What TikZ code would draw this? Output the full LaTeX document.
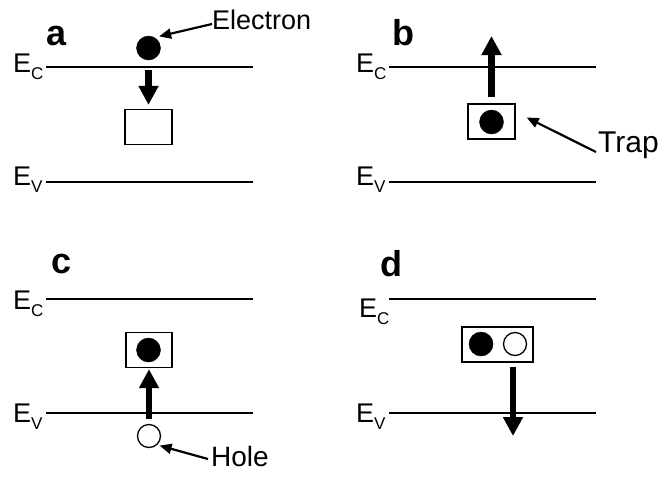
\documentclass[tikz,border=0pt]{standalone}
\usepackage{fontspec}
\setmainfont{Liberation Sans}
\usetikzlibrary{arrows.meta}
\newcommand{\lvsub}[1]{\raisebox{-7pt}{\fontsize{17}{17}\selectfont #1}}

\begin{document}
\begin{tikzpicture}[x=1pt,y=-1pt,
    level/.style={line width=1.5pt},
    lvlabel/.style={anchor=base west,inner sep=0pt,font=\fontsize{27}{27}\selectfont},
    panel/.style={anchor=base west,inner sep=0pt,font=\fontsize{36}{36}\selectfont\bfseries},
    tag/.style={anchor=base west,inner sep=0pt,font=\fontsize{27}{27}\selectfont},
    electron/.style={circle,fill=black,draw=black,inner sep=0pt,minimum size=24pt},
    hole/.style={circle,fill=white,draw=black,line width=1.3pt,inner sep=0pt,minimum size=23pt},
    trap/.style={draw,line width=1.3pt,inner sep=0pt,minimum height=35pt},
    jump/.style={line width=6.5pt,-{Triangle[length=19pt,width=19pt]}},
    pointer/.style={line width=2.2pt,-{Triangle[length=12pt,width=10pt]}}]

    \useasboundingbox (0,0) rectangle (666,477);

    % a: capture
    \node[panel]   (pa)   at (46,45)   {a};
    \coordinate    (ca0)  at (46,67);
    \coordinate    (ca1)  at (253,67);
    \coordinate    (va0)  at (46,182);
    \coordinate    (va1)  at (253,182);
    \node[lvlabel] (eca)  at (13,72)   {E\lvsub{C}};
    \node[lvlabel] (eva)  at (13,185)  {E\lvsub{V}};
    \node[electron] (ea)  at (148.5,48) {};
    \node[trap,minimum width=47pt] (ta) at (148.5,127) {};
    \node[tag]     (elec) at (212,29)  {Electron};

    \draw[level] (ca0) -- (ca1);
    \draw[level] (va0) -- (va1);
    \draw[jump] ([yshift=-10pt]ea.south) -- ([yshift=4pt]ta.north);
    \draw[pointer] ([yshift=5pt]elec.base west) -- ([shift={(2pt,3pt)}]ea.north east);

    % b: emission of electron
    \node[panel]   (pb)   at (392,45)  {b};
    \coordinate    (cb0)  at (389,67);
    \coordinate    (cb1)  at (596,67);
    \coordinate    (vb0)  at (389,182);
    \coordinate    (vb1)  at (596,182);
    \node[lvlabel] (ecb)  at (356,72)  {E\lvsub{C}};
    \node[lvlabel] (evb)  at (356,185) {E\lvsub{V}};
    \node[trap,minimum width=47pt] (tb) at (491.5,121.5) {};
    \node[electron] (eb)  at (491.5,122) {};
    \coordinate    (tipb) at (491.5,36);
    \node[tag,font=\fontsize{30}{30}\selectfont] (trap) at (598,152) {Trap};

    \draw[level] (cb0) -- (cb1);
    \draw[level] (vb0) -- (vb1);
    \draw[jump] ([yshift=6pt]tb.north) -- (tipb);
    \draw[pointer] ([xshift=-2pt]trap.base west) -- ([shift={(11pt,4pt)}]tb.east);

    % c: capture of hole
    \node[panel]   (pc)   at (51,273)  {c};
    \coordinate    (cc0)  at (46,299);
    \coordinate    (cc1)  at (253,299);
    \coordinate    (vc0)  at (46,413);
    \coordinate    (vc1)  at (253,413);
    \node[lvlabel] (ecc)  at (13,309)  {E\lvsub{C}};
    \node[lvlabel] (evc)  at (13,422)  {E\lvsub{V}};
    \node[trap,minimum width=46pt] (tc) at (149,350) {};
    \node[electron] (ec)  at (148.5,350) {};
    \node[hole]    (hc)   at (149,436) {};
    \node[tag,font=\fontsize{28}{28}\selectfont] (holetxt) at (211,466) {Hole};

    \draw[level] (cc0) -- (cc1);
    \draw[level] (vc0) -- (vc1);
    \draw[jump] ([yshift=5pt]hc.north) -- ([yshift=-1pt]tc.south);
    \draw[pointer] ([shift={(-3pt,7pt)}]holetxt.base west) -- ([shift={(2pt,-1pt)}]hc.south east);

    % d: emission of hole
    \node[panel]   (pd)   at (380,276) {d};
    \coordinate    (cd0)  at (389,299);
    \coordinate    (cd1)  at (596,299);
    \coordinate    (vd0)  at (389,413);
    \coordinate    (vd1)  at (596,413);
    \node[lvlabel] (ecd)  at (359,317) {E\lvsub{C}};
    \node[lvlabel] (evd)  at (356,422) {E\lvsub{V}};
    \node[trap,minimum width=71pt] (td) at (497.5,344.5) {};
    \node[electron] (ed)  at (481,344) {};
    \node[hole]    (hd)   at (515,344) {};
    \coordinate    (tipd) at (513,436);

    \draw[level] (cd0) -- (cd1);
    \draw[level] (vd0) -- (vd1);
    \draw[jump] ([shift={(15.5pt,-4pt)}]td.south) -- (tipd);
\end{tikzpicture}
\end{document}
